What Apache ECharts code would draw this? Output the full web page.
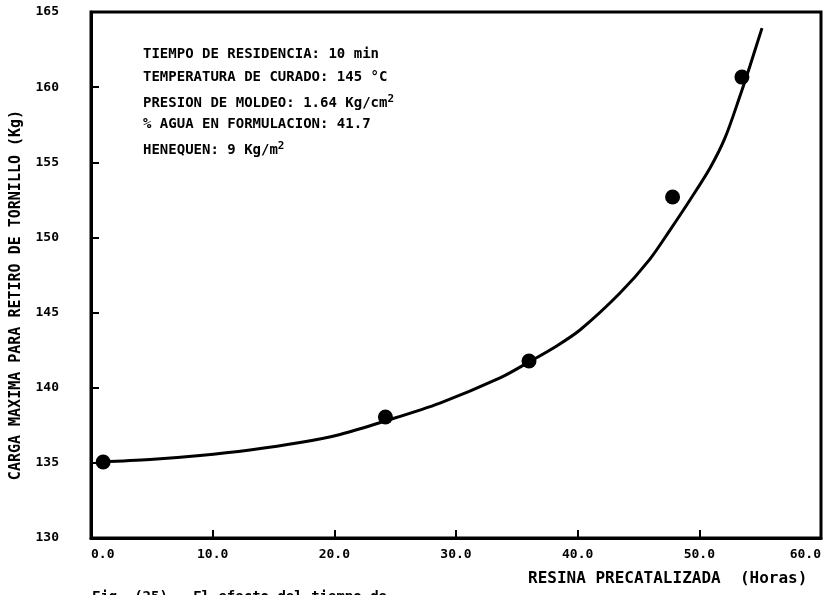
<!DOCTYPE html>
<html>
<head>
<meta charset="utf-8">
<script src="https://cdn.jsdelivr.net/npm/echarts@6/dist/echarts.min.js"></script>
<style>
html,body{margin:0;padding:0;background:#fff;}
#chart{width:832px;height:595px;}
</style>
</head>
<body>
<div id="chart"></div>
<script>
// Measured points (hours, kg)
const pointX = [1.0, 24.2, 36.0, 47.8, 53.5];
const pointY = [135.06, 138.05, 141.78, 152.69, 160.67];
// Fitted curve
const curveX = [0.74, 4.85, 8.96, 13.07, 17.18, 20.47, 24.16, 28.68, 33.62, 36.0, 38.14, 40.19, 43.48, 45.94, 47.59, 49.23, 50.88, 52.11, 53.34, 54.16, 55.15];
const curveY = [135.06, 135.22, 135.49, 135.86, 136.35, 136.89, 137.78, 138.98, 140.65, 141.71, 142.71, 143.84, 146.30, 148.56, 150.49, 152.49, 154.62, 156.62, 159.41, 161.41, 163.93];
const xTicks = ['0.0', '10.0', '20.0', '30.0', '40.0', '50.0', '60.0'];
const yTicks = ['130', '135', '140', '145', '150', '155', '160', '165'];
const notes = [
  'TIEMPO DE RESIDENCIA: 10 min',
  'TEMPERATURA DE CURADO: 145 °C',
  'PRESION DE MOLDEO: 1.64 Kg/cm{sup|2}',
  '% AGUA EN FORMULACION: 41.7',
  'HENEQUEN: 9 Kg/m{sup|2}'
];
const xTitle = 'RESINA PRECATALIZADA  (Horas)';
const yTitle = 'CARGA MAXIMA PARA RETIRO DE TORNILLO (Kg)';
const caption = 'Fig. (25).  El efecto del tiempo de';

const FONT = "'DejaVu Sans Mono', monospace";
const chart = echarts.init(document.getElementById('chart'), null, {renderer: 'canvas'});

const noteGraphics = notes.map((t, i) => ({
  type: 'text',
  x: 143,
  y: 47 + i * 23.3,
  style: {
    text: t,
    fill: '#000',
    font: "bold 14px " + FONT,
    rich: {
      sup: {fontSize: 11, fontWeight: 'bold', fontFamily: FONT, fill: '#000', verticalAlign: 'top', padding: [0, 0, 9, 0]}
    }
  }
}));

chart.setOption({
  animation: false,
  backgroundColor: '#fff',
  grid: {left: 91, right: 11, top: 12, bottom: 57, show: true, borderColor: '#000', borderWidth: 3},
  xAxis: {
    type: 'value', min: 0, max: 60, interval: 10,
    axisLine: {show: true, onZero: false, lineStyle: {color: '#000', width: 3}},
    axisTick: {show: true, inside: true, length: 8, lineStyle: {color: '#000', width: 2}},
    splitLine: {show: false},
    axisLabel: {
      color: '#000', fontFamily: FONT, fontWeight: 'bold', fontSize: 13, margin: 10,
      alignMinLabel: 'left', alignMaxLabel: 'right',
      formatter: (v) => xTicks[Math.round(v / 10)]
    }
  },
  yAxis: {
    type: 'value', min: 130, max: 165, interval: 5,
    axisLine: {show: true, onZero: false, lineStyle: {color: '#000', width: 3}},
    axisTick: {show: true, inside: true, length: 8, lineStyle: {color: '#000', width: 2}},
    splitLine: {show: false},
    axisLabel: {
      color: '#000', fontFamily: FONT, fontWeight: 'bold', fontSize: 13, margin: 32,
      formatter: (v) => yTicks[Math.round((v - 130) / 5)]
    }
  },
  series: [
    {
      type: 'line',
      data: curveX.map((x, i) => [x, curveY[i]]),
      smooth: 0.3,
      showSymbol: false,
      lineStyle: {color: '#000', width: 3},
      z: 2
    },
    {
      type: 'scatter',
      data: pointX.map((x, i) => [x, pointY[i]]),
      symbol: 'circle',
      symbolSize: 15,
      itemStyle: {color: '#000', opacity: 1},
      z: 3
    }
  ],
  graphic: noteGraphics.concat([
    {
      type: 'text', x: 528, y: 571,
      style: {text: xTitle, fill: '#000', font: "bold 16px " + FONT}
    },
    {
      type: 'text', x: 16, y: 295, rotation: Math.PI / 2,
      style: {text: yTitle, fill: '#000', font: "bold 15px " + FONT, align: 'center', verticalAlign: 'middle'}
    },
    {
      type: 'text', x: 92, y: 590,
      style: {text: caption, fill: '#000', font: "bold 14px " + FONT}
    }
  ])
});
</script>
</body>
</html>
